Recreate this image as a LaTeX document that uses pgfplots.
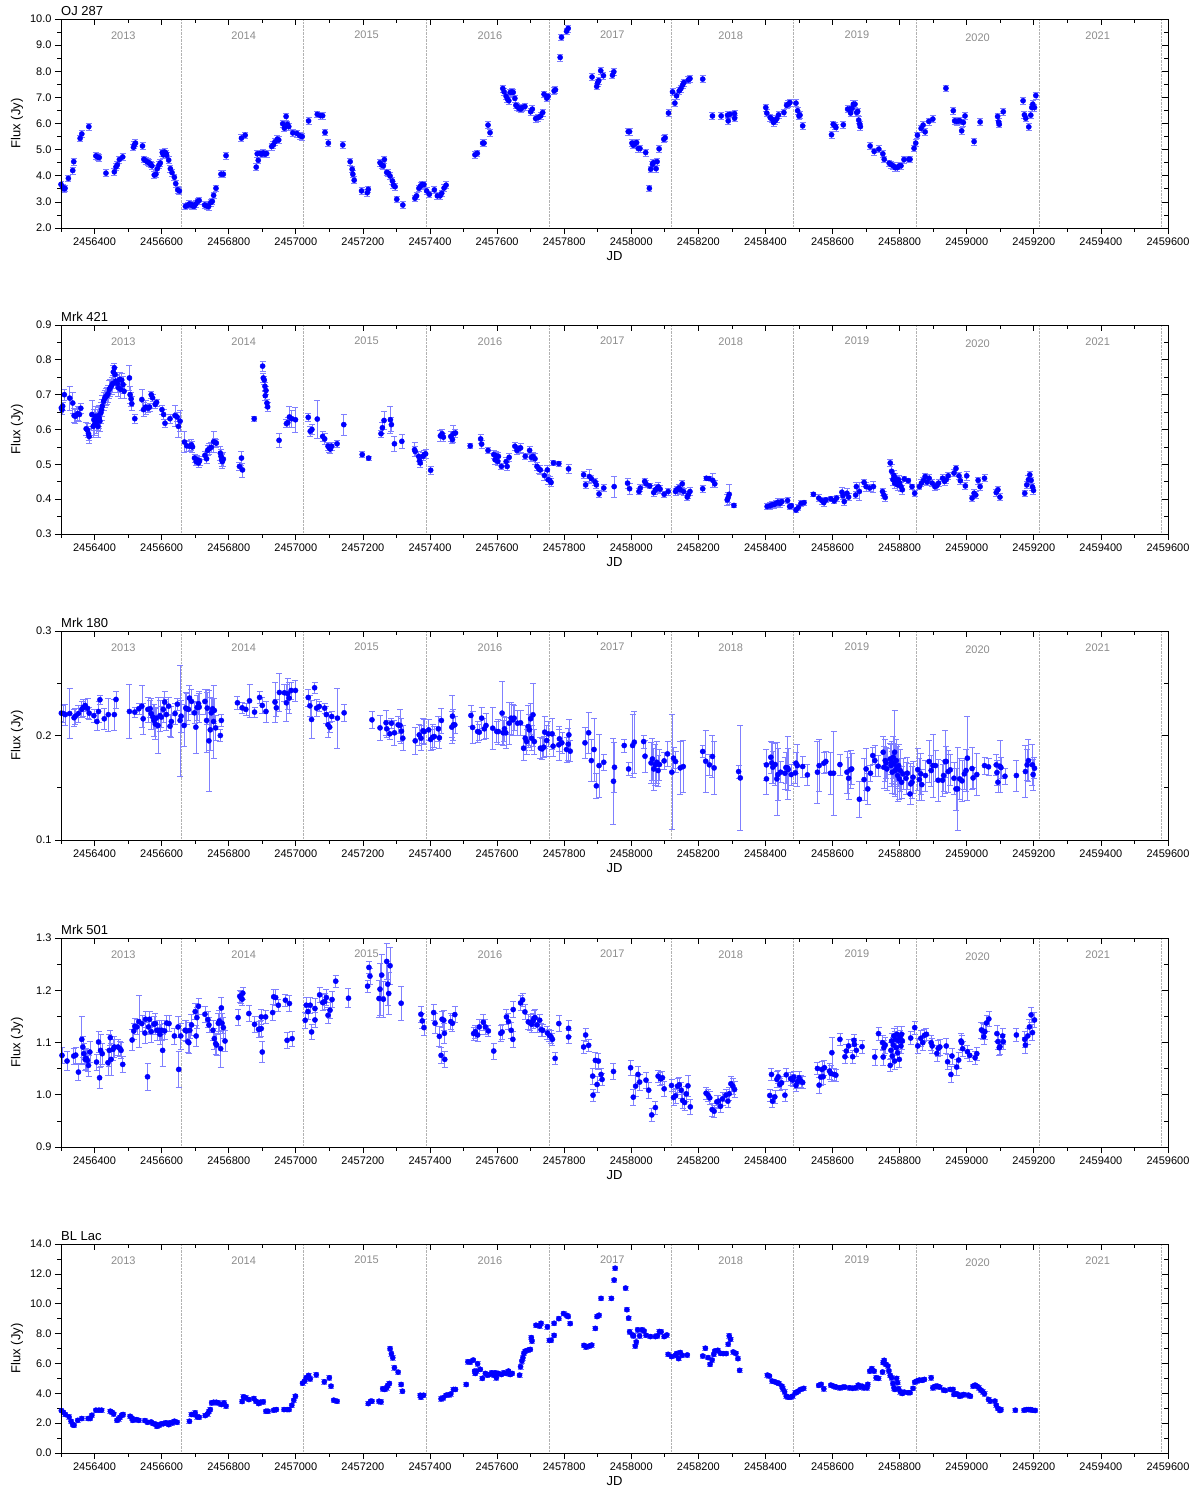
\documentclass[border=0pt]{standalone}
\usepackage{fontspec}
\setmainfont{Liberation Sans}
\usepackage{pgfplots}
\usepackage{pgfplotstable}
\pgfplotsset{compat=1.18}
\definecolor{yeargray}{rgb}{0.55,0.55,0.55}
\definecolor{ebblue}{rgb}{0.5,0.5,1}

% x values are t = JD - 2456000 (tick labels give the full JD)
\pgfplotstableread{
t f
300 3.67
305 3.55
310 3.50
312 3.52
322 3.90
335 4.20
338 4.54
357 5.43
362 5.60
383 5.88
404 4.76
409 4.72
414 4.70
434 4.10
459 4.15
464 4.34
468 4.42
474 4.62
484 4.72
516 5.09
519 5.19
522 5.25
543 5.14
547 4.63
552 4.58
558 4.53
563 4.50
567 4.44
571 4.38
578 4.03
583 4.06
587 4.27
592 4.41
596 4.49
602 4.89
605 4.80
609 4.91
613 4.86
615 4.78
621 4.60
626 4.27
631 4.12
638 3.94
642 3.70
648 3.46
653 3.42
671 2.83
678 2.87
683 2.92
688 2.90
692 2.85
697 2.83
702 2.92
707 3.02
712 3.05
728 2.88
734 2.85
740 2.82
746 2.97
751 3.02
755 3.25
762 3.52
777 4.06
784 4.06
792 4.77
838 5.44
849 5.55
882 4.33
885 4.84
888 4.59
893 4.85
898 4.83
903 4.87
908 4.83
913 4.85
928 5.12
933 5.18
938 5.30
945 5.40
949 5.37
961 5.99
966 5.82
971 6.27
975 5.97
979 5.88
991 5.64
1003 5.62
1012 5.53
1019 5.50
1038 6.10
1064 6.35
1074 6.30
1080 6.30
1087 5.66
1097 5.25
1140 5.18
1162 4.54
1168 4.25
1170 4.06
1174 3.83
1196 3.42
1213 3.35
1216 3.48
1251 4.50
1256 4.41
1261 4.38
1264 4.62
1271 4.13
1276 4.10
1281 3.99
1288 3.80
1291 3.64
1296 3.58
1301 3.10
1319 2.88
1355 3.14
1360 3.23
1367 3.52
1372 3.61
1377 3.67
1382 3.66
1390 3.42
1398 3.29
1413 3.46
1422 3.23
1430 3.23
1435 3.33
1442 3.53
1448 3.64
1534 4.80
1541 4.86
1557 5.25
1561 5.25
1573 5.94
1579 5.65
1617 7.34
1621 7.21
1627 7.04
1631 6.93
1635 6.87
1639 7.19
1644 7.21
1648 7.19
1653 6.96
1656 6.70
1660 6.65
1665 6.58
1670 6.55
1675 6.61
1683 6.65
1700 6.45
1705 6.55
1715 6.19
1723 6.23
1730 6.29
1736 6.42
1740 7.12
1748 6.97
1752 7.04
1770 7.25
1774 7.29
1788 8.53
1792 9.30
1807 9.53
1812 9.64
1883 7.78
1897 7.42
1900 7.57
1903 7.64
1909 8.02
1917 7.83
1944 7.85
1948 7.98
1991 5.69
1995 5.69
2002 5.25
2006 5.17
2011 5.23
2016 5.27
2021 5.04
2026 5.04
2043 4.89
2054 3.52
2058 4.25
2063 4.44
2066 4.50
2074 4.27
2077 4.54
2083 5.03
2097 5.40
2101 5.45
2111 6.40
2123 7.21
2130 6.78
2135 7.06
2143 7.25
2148 7.34
2153 7.47
2157 7.57
2170 7.67
2175 7.72
2213 7.70
2242 6.29
2268 6.29
2287 6.32
2289 6.10
2294 6.35
2308 6.38
2308 6.20
2401 6.61
2404 6.40
2414 6.23
2419 6.17
2424 6.04
2429 6.10
2434 6.19
2439 6.33
2455 6.42
2463 6.70
2468 6.74
2473 6.80
2491 6.78
2496 6.49
2500 6.29
2503 6.32
2511 5.91
2597 5.57
2602 5.97
2607 5.91
2610 5.85
2632 5.95
2645 6.55
2650 6.55
2654 6.40
2658 6.58
2662 6.74
2667 6.74
2672 6.42
2675 6.46
2678 6.13
2681 5.97
2683 5.88
2712 5.14
2724 4.93
2738 5.02
2750 4.84
2754 4.63
2769 4.48
2774 4.43
2781 4.38
2787 4.31
2793 4.31
2799 4.38
2804 4.38
2813 4.62
2827 4.63
2831 4.63
2843 5.05
2848 5.25
2853 5.55
2864 5.81
2870 5.94
2876 5.68
2887 6.08
2899 6.17
2938 7.35
2960 6.49
2964 6.10
2970 6.08
2976 6.10
2980 6.10
2985 5.72
2990 6.04
2995 6.29
3022 5.31
3040 6.06
3092 6.27
3095 6.06
3097 5.97
3109 6.45
3168 6.87
3172 6.33
3176 6.20
3185 5.87
3191 6.32
3194 6.61
3197 6.74
3202 6.61
3206 7.07
}\tabA

\pgfplotstableread{
t f e
301 0.662 0.012
303 0.657 0.012
305 0.667 0.012
310 0.700 0.015
326 0.690 0.035
335 0.676 0.03
339 0.640 0.02
343 0.638 0.02
350 0.646 0.02
355 0.643 0.02
359 0.661 0.015
375 0.602 0.02
379 0.598 0.02
382 0.588 0.02
384 0.580 0.02
392 0.643 0.04
396 0.609 0.03
398 0.628 0.03
400 0.614 0.03
403 0.638 0.03
405 0.618 0.03
407 0.628 0.03
410 0.609 0.03
412 0.640 0.03
414 0.633 0.03
416 0.624 0.03
419 0.648 0.03
421 0.657 0.03
423 0.667 0.03
427 0.681 0.025
430 0.688 0.025
433 0.694 0.025
437 0.697 0.025
440 0.703 0.025
444 0.715 0.025
447 0.720 0.025
451 0.726 0.025
454 0.732 0.025
456 0.765 0.02
459 0.777 0.012
461 0.758 0.02
463 0.739 0.02
468 0.732 0.025
471 0.720 0.025
475 0.744 0.02
478 0.715 0.025
481 0.742 0.02
485 0.729 0.025
488 0.710 0.02
504 0.748 0.035
506 0.700 0.025
509 0.688 0.02
511 0.674 0.02
520 0.631 0.012
541 0.686 0.03
546 0.657 0.02
552 0.664 0.02
559 0.661 0.012
564 0.664 0.012
569 0.700 0.01
573 0.691 0.01
581 0.672 0.01
585 0.678 0.01
601 0.657 0.012
606 0.643 0.015
610 0.618 0.012
625 0.631 0.012
640 0.640 0.03
646 0.636 0.012
650 0.609 0.03
655 0.624 0.03
668 0.564 0.03
675 0.553 0.015
683 0.552 0.015
689 0.556 0.015
692 0.550 0.015
698 0.518 0.012
703 0.508 0.012
706 0.513 0.012
710 0.504 0.012
713 0.510 0.012
729 0.526 0.012
734 0.516 0.012
737 0.540 0.015
741 0.544 0.015
748 0.549 0.015
755 0.565 0.03
760 0.563 0.012
763 0.561 0.012
775 0.532 0.02
777 0.523 0.02
779 0.513 0.02
781 0.508 0.02
784 0.515 0.02
832 0.494 0.012
838 0.518 0.02
841 0.484 0.02
876 0.631 0.008
901 0.782 0.015
903 0.748 0.012
906 0.742 0.012
908 0.724 0.012
909 0.697 0.012
911 0.712 0.012
914 0.676 0.012
916 0.665 0.012
950 0.569 0.02
972 0.617 0.012
976 0.620 0.015
981 0.636 0.03
988 0.631 0.025
999 0.628 0.035
1037 0.635 0.012
1043 0.595 0.015
1048 0.600 0.015
1064 0.630 0.055
1080 0.580 0.015
1086 0.573 0.015
1096 0.552 0.012
1100 0.547 0.012
1103 0.544 0.012
1107 0.552 0.012
1123 0.559 0.01
1143 0.614 0.03
1198 0.528 0.008
1217 0.518 0.006
1254 0.588 0.01
1258 0.605 0.015
1263 0.626 0.025
1282 0.628 0.04
1285 0.614 0.02
1294 0.559 0.022
1316 0.566 0.02
1354 0.542 0.02
1356 0.537 0.015
1366 0.523 0.015
1369 0.511 0.012
1371 0.504 0.012
1379 0.523 0.012
1383 0.528 0.012
1387 0.530 0.012
1402 0.483 0.012
1431 0.582 0.015
1436 0.588 0.012
1440 0.578 0.012
1462 0.580 0.015
1467 0.571 0.012
1470 0.588 0.025
1476 0.590 0.012
1520 0.553 0.008
1551 0.573 0.012
1554 0.558 0.012
1573 0.540 0.008
1590 0.528 0.012
1594 0.513 0.012
1597 0.525 0.012
1602 0.508 0.012
1604 0.523 0.012
1613 0.494 0.008
1627 0.508 0.012
1630 0.494 0.012
1636 0.520 0.012
1653 0.552 0.012
1659 0.540 0.012
1664 0.544 0.012
1670 0.547 0.012
1684 0.523 0.008
1697 0.540 0.012
1702 0.520 0.012
1707 0.523 0.012
1713 0.516 0.015
1719 0.494 0.012
1725 0.486 0.012
1729 0.484 0.012
1741 0.468 0.015
1750 0.484 0.012
1752 0.456 0.012
1757 0.454 0.012
1761 0.448 0.012
1768 0.504 0.008
1784 0.502 0.008
1813 0.487 0.012
1858 0.470 0.01
1864 0.441 0.01
1875 0.465 0.02
1881 0.459 0.01
1892 0.450 0.01
1896 0.441 0.01
1904 0.415 0.01
1918 0.432 0.01
1949 0.436 0.03
1989 0.446 0.015
1995 0.430 0.015
2023 0.422 0.008
2027 0.432 0.01
2040 0.451 0.01
2044 0.444 0.01
2055 0.438 0.008
2067 0.419 0.012
2072 0.427 0.012
2078 0.432 0.012
2081 0.435 0.012
2086 0.429 0.012
2098 0.414 0.01
2110 0.422 0.01
2132 0.422 0.01
2135 0.427 0.01
2142 0.432 0.012
2146 0.427 0.012
2152 0.444 0.01
2156 0.422 0.01
2167 0.406 0.01
2170 0.413 0.01
2175 0.422 0.012
2213 0.430 0.01
2224 0.460 0.006
2232 0.459 0.006
2243 0.454 0.02
2249 0.444 0.01
2286 0.398 0.015
2289 0.405 0.015
2292 0.414 0.03
2306 0.382 0.005
2405 0.379 0.008
2414 0.381 0.01
2420 0.384 0.01
2426 0.385 0.01
2432 0.388 0.01
2437 0.391 0.012
2443 0.388 0.012
2449 0.393 0.01
2466 0.396 0.008
2472 0.379 0.008
2477 0.381 0.008
2491 0.369 0.008
2498 0.376 0.008
2506 0.388 0.008
2515 0.390 0.008
2543 0.414 0.005
2559 0.403 0.01
2568 0.396 0.01
2574 0.390 0.01
2580 0.398 0.008
2595 0.401 0.008
2605 0.395 0.008
2612 0.403 0.008
2628 0.420 0.015
2631 0.410 0.01
2635 0.393 0.01
2643 0.417 0.015
2648 0.406 0.01
2669 0.412 0.01
2671 0.436 0.012
2680 0.422 0.025
2694 0.448 0.01
2700 0.436 0.012
2711 0.432 0.01
2722 0.436 0.015
2749 0.422 0.01
2753 0.412 0.01
2757 0.405 0.01
2772 0.504 0.01
2776 0.480 0.02
2780 0.456 0.015
2783 0.468 0.015
2785 0.446 0.015
2787 0.460 0.015
2791 0.451 0.015
2794 0.441 0.015
2797 0.456 0.012
2800 0.446 0.012
2804 0.436 0.012
2808 0.427 0.012
2814 0.458 0.008
2826 0.453 0.008
2837 0.436 0.008
2845 0.417 0.008
2859 0.436 0.008
2865 0.446 0.01
2871 0.454 0.01
2876 0.465 0.008
2882 0.449 0.01
2888 0.460 0.01
2897 0.446 0.01
2905 0.436 0.01
2911 0.439 0.01
2916 0.446 0.01
2928 0.460 0.01
2934 0.451 0.01
2939 0.456 0.01
2945 0.467 0.01
2962 0.475 0.01
2968 0.488 0.01
2977 0.467 0.01
2981 0.453 0.01
2996 0.438 0.01
3000 0.467 0.012
3016 0.403 0.008
3022 0.417 0.01
3027 0.412 0.01
3034 0.454 0.01
3040 0.436 0.01
3053 0.460 0.01
3088 0.419 0.01
3093 0.427 0.01
3099 0.406 0.01
3173 0.417 0.008
3179 0.441 0.01
3184 0.456 0.012
3188 0.470 0.01
3192 0.454 0.01
3196 0.435 0.01
3199 0.425 0.01
}\tabB

\pgfplotstableread{
t f e
301 0.2214 0.008
307 0.221 0.008
313 0.220 0.01
326 0.221 0.024
339 0.217 0.008
343 0.2185 0.008
352 0.221 0.008
362 0.225 0.008
366 0.2268 0.008
372 0.2288 0.006
379 0.226 0.01
384 0.2214 0.006
398 0.219 0.006
407 0.2134 0.008
412 0.223 0.01
416 0.2342 0.004
429 0.216 0.01
441 0.220 0.016
459 0.220 0.015
464 0.2345 0.008
504 0.223 0.026
520 0.2224 0.005
532 0.2256 0.005
541 0.228 0.02
545 0.216 0.015
559 0.225 0.012
566 0.2256 0.008
569 0.221 0.015
574 0.2176 0.012
577 0.2144 0.015
581 0.211 0.015
584 0.2166 0.01
589 0.2096 0.027
595 0.219 0.015
599 0.2176 0.01
605 0.225 0.012
609 0.232 0.01
614 0.220 0.015
621 0.2281 0.008
625 0.2089 0.01
629 0.2134 0.015
640 0.221 0.01
647 0.230 0.006
655 0.2144 0.053
658 0.2185 0.015
667 0.2096 0.02
672 0.2262 0.015
675 0.2256 0.015
680 0.225 0.01
683 0.2358 0.012
689 0.2326 0.012
698 0.2217 0.01
702 0.208 0.025
706 0.2268 0.012
710 0.2304 0.01
712 0.2272 0.015
729 0.2326 0.012
734 0.2144 0.03
736 0.2262 0.015
741 0.1949 0.048
745 0.2054 0.02
748 0.2217 0.015
752 0.2256 0.01
755 0.2134 0.035
757 0.224 0.012
761 0.2073 0.012
775 0.200 0.006
778 0.2144 0.006
826 0.2313 0.006
840 0.2265 0.005
851 0.225 0.006
862 0.2332 0.016
877 0.2224 0.005
892 0.2364 0.006
900 0.2288 0.008
911 0.223 0.01
938 0.232 0.019
942 0.2265 0.008
951 0.2412 0.018
966 0.2409 0.008
972 0.2313 0.018
976 0.240 0.015
980 0.2358 0.015
986 0.2431 0.008
999 0.2431 0.01
1037 0.2364 0.008
1042 0.2284 0.01
1047 0.2153 0.018
1056 0.2457 0.005
1062 0.2262 0.008
1070 0.2278 0.005
1086 0.2262 0.005
1091 0.220 0.008
1096 0.2102 0.012
1101 0.208 0.005
1107 0.2182 0.005
1124 0.2166 0.029
1144 0.2217 0.008
1227 0.215 0.008
1251 0.2073 0.012
1269 0.2121 0.012
1271 0.2064 0.008
1280 0.2016 0.005
1285 0.2118 0.005
1294 0.2026 0.012
1305 0.2102 0.008
1311 0.2096 0.015
1315 0.2042 0.012
1319 0.1974 0.012
1356 0.1949 0.013
1368 0.2006 0.01
1373 0.1974 0.012
1379 0.2045 0.012
1383 0.2038 0.012
1396 0.2054 0.01
1402 0.1962 0.01
1408 0.1984 0.012
1413 0.199 0.01
1425 0.2064 0.012
1428 0.1978 0.01
1434 0.2144 0.012
1465 0.208 0.015
1467 0.2185 0.02
1470 0.2102 0.015
1474 0.2102 0.008
1522 0.2192 0.01
1527 0.2077 0.015
1542 0.2038 0.01
1547 0.2032 0.008
1554 0.2166 0.01
1562 0.2064 0.01
1567 0.2096 0.012
1587 0.207 0.02
1599 0.2038 0.01
1604 0.2038 0.012
1615 0.2214 0.03
1618 0.2026 0.012
1622 0.2064 0.012
1626 0.2026 0.015
1636 0.2118 0.02
1642 0.2166 0.015
1647 0.215 0.015
1651 0.2166 0.012
1661 0.2118 0.012
1670 0.2121 0.012
1679 0.1879 0.012
1684 0.1974 0.012
1688 0.1942 0.012
1693 0.2086 0.02
1696 0.2054 0.015
1700 0.216 0.015
1703 0.1974 0.012
1707 0.2198 0.03
1711 0.1942 0.012
1729 0.1879 0.01
1734 0.1872 0.01
1739 0.1888 0.01
1742 0.2032 0.015
1748 0.1952 0.015
1753 0.2016 0.012
1764 0.2016 0.015
1767 0.1898 0.01
1784 0.1911 0.015
1786 0.1968 0.012
1793 0.193 0.01
1807 0.1866 0.012
1812 0.1917 0.015
1814 0.2006 0.015
1818 0.185 0.01
1862 0.193 0.015
1873 0.2026 0.02
1881 0.176 0.02
1889 0.1866 0.03
1896 0.1518 0.012
1904 0.1712 0.03
1918 0.1744 0.008
1947 0.1562 0.041
1950 0.1696 0.024
1979 0.1904 0.006
1992 0.168 0.006
2004 0.1904 0.03
2009 0.1936 0.03
2037 0.1942 0.006
2041 0.1802 0.015
2059 0.1738 0.02
2063 0.1776 0.02
2067 0.168 0.02
2072 0.1719 0.02
2076 0.1744 0.02
2080 0.1665 0.015
2084 0.1722 0.015
2098 0.1757 0.008
2108 0.1824 0.012
2121 0.1649 0.055
2126 0.1783 0.01
2132 0.1751 0.01
2146 0.169 0.025
2155 0.1703 0.025
2213 0.1847 0.006
2222 0.1754 0.03
2233 0.1719 0.01
2242 0.1799 0.02
2247 0.169 0.025
2320 0.1655 0.006
2325 0.1594 0.05
2403 0.1585 0.015
2403 0.1719 0.015
2416 0.1792 0.015
2419 0.1738 0.02
2422 0.1697 0.015
2429 0.1722 0.02
2434 0.1585 0.035
2437 0.1626 0.025
2445 0.1649 0.01
2458 0.1639 0.015
2461 0.1693 0.015
2466 0.169 0.03
2468 0.1674 0.02
2477 0.1626 0.01
2489 0.1642 0.01
2491 0.1735 0.01
2495 0.1712 0.02
2511 0.1703 0.01
2525 0.1623 0.01
2555 0.1649 0.03
2560 0.1712 0.025
2574 0.1735 0.01
2580 0.1751 0.01
2594 0.1639 0.02
2603 0.1639 0.04
2622 0.1722 0.01
2643 0.1649 0.02
2648 0.1591 0.02
2654 0.1674 0.018
2657 0.168 0.015
2680 0.139 0.017
2694 0.1578 0.02
2700 0.168 0.02
2705 0.1489 0.015
2713 0.1639 0.008
2720 0.1808 0.008
2726 0.176 0.015
2736 0.1706 0.01
2751 0.184 0.015
2753 0.1696 0.02
2757 0.176 0.02
2760 0.1738 0.015
2762 0.168 0.02
2772 0.1776 0.015
2774 0.1712 0.02
2776 0.1744 0.02
2778 0.1649 0.02
2781 0.1792 0.02
2783 0.1729 0.02
2785 0.184 0.04
2787 0.1665 0.025
2790 0.176 0.02
2792 0.1696 0.02
2794 0.1617 0.025
2797 0.1712 0.02
2799 0.1585 0.02
2802 0.1665 0.02
2806 0.1553 0.015
2810 0.1633 0.015
2819 0.1591 0.015
2823 0.1639 0.015
2831 0.1441 0.01
2833 0.1537 0.02
2837 0.1553 0.015
2840 0.1601 0.015
2854 0.1674 0.02
2859 0.1578 0.02
2863 0.1633 0.02
2866 0.153 0.015
2877 0.1617 0.015
2888 0.1751 0.02
2894 0.1665 0.015
2899 0.1712 0.03
2907 0.1712 0.015
2915 0.1572 0.02
2928 0.1572 0.015
2931 0.1617 0.015
2936 0.1751 0.03
2939 0.1751 0.015
2945 0.1655 0.02
2951 0.1671 0.015
2962 0.1591 0.015
2968 0.1489 0.02
2973 0.1489 0.04
2979 0.1585 0.02
2986 0.1566 0.02
2993 0.1633 0.015
2998 0.1665 0.02
3002 0.1783 0.04
3016 0.1684 0.02
3019 0.1594 0.01
3030 0.1626 0.02
3053 0.1712 0.008
3065 0.17 0.008
3088 0.1719 0.01
3090 0.1645 0.012
3093 0.1553 0.01
3099 0.1706 0.025
3102 0.1693 0.01
3114 0.161 0.008
3148 0.1617 0.015
3175 0.1655 0.025
3180 0.1719 0.015
3184 0.176 0.02
3196 0.1719 0.02
3198 0.1626 0.015
3202 0.1687 0.01
}\tabC

\pgfplotstableread{
t f e
303 1.0754 0.015
318 1.0645 0.018
338 1.0741 0.015
344 1.0760 0.015
352 1.0434 0.015
362 1.1060 0.045
365 1.0914 0.02
368 1.0786 0.02
372 1.0677 0.02
375 1.0696 0.02
379 1.0658 0.02
382 1.0562 0.02
386 1.0818 0.02
406 1.0626 0.015
412 1.1010 0.02
415 1.0325 0.02
418 1.0850 0.03
423 1.0786 0.02
440 1.0613 0.025
444 1.0850 0.03
447 1.1093 0.015
449 1.0677 0.03
455 1.0869 0.02
459 1.0914 0.02
470 1.0914 0.015
476 1.0882 0.015
479 1.0850 0.015
484 1.0581 0.015
512 1.1048 0.02
517 1.1221 0.015
520 1.1310 0.015
526 1.1298 0.015
532 1.1400 0.05
541 1.1362 0.015
550 1.1182 0.02
552 1.1445 0.015
558 1.0344 0.025
561 1.1298 0.015
564 1.1445 0.015
569 1.1208 0.02
577 1.1349 0.015
581 1.1362 0.02
586 1.1234 0.02
592 1.1234 0.02
595 1.1157 0.02
600 1.1234 0.02
603 1.0850 0.03
609 1.1221 0.015
615 1.1374 0.015
622 1.1362 0.015
638 1.1125 0.015
649 1.1298 0.02
651 1.0485 0.035
657 1.1125 0.025
670 1.1234 0.02
674 1.1221 0.02
678 1.1016 0.02
681 1.0997 0.02
684 1.1234 0.015
689 1.1336 0.02
700 1.1592 0.015
703 1.1125 0.02
705 1.1477 0.02
710 1.1694 0.015
729 1.1541 0.015
738 1.1438 0.015
741 1.1336 0.015
753 1.1234 0.02
757 1.1074 0.02
761 1.0978 0.02
764 1.0952 0.02
769 1.1368 0.02
772 1.1413 0.02
776 1.0882 0.035
778 1.1662 0.02
780 1.1368 0.02
784 1.1285 0.02
789 1.1029 0.02
828 1.1477 0.015
833 1.1886 0.012
836 1.1861 0.012
840 1.1829 0.012
842 1.1944 0.012
860 1.1554 0.015
877 1.1349 0.015
889 1.1253 0.015
892 1.1253 0.015
897 1.1266 0.015
897 1.1490 0.015
900 1.0818 0.02
910 1.1490 0.012
931 1.1573 0.015
934 1.1874 0.015
940 1.1861 0.015
948 1.1714 0.012
969 1.1810 0.012
974 1.1042 0.015
981 1.1746 0.015
989 1.1074 0.015
1028 1.1426 0.015
1031 1.1714 0.015
1036 1.1592 0.015
1043 1.1714 0.015
1047 1.1202 0.015
1057 1.1650 0.02
1057 1.1432 0.015
1071 1.1912 0.015
1080 1.1765 0.015
1086 1.1784 0.015
1091 1.1861 0.015
1096 1.1522 0.015
1102 1.1618 0.015
1108 1.1822 0.015
1119 1.2174 0.012
1157 1.1848 0.018
1214 1.2078 0.012
1218 1.2437 0.012
1221 1.2270 0.015
1248 1.1842 0.035
1251 1.2021 0.05
1256 1.2290 0.04
1261 1.1829 0.035
1271 1.2552 0.035
1274 1.2117 0.04
1277 1.1938 0.04
1281 1.2469 0.035
1314 1.1752 0.032
1373 1.1541 0.015
1377 1.1413 0.015
1382 1.1285 0.015
1411 1.1573 0.015
1415 1.1368 0.02
1428 1.1118 0.02
1433 1.0754 0.015
1436 1.1445 0.015
1441 1.1426 0.02
1443 1.1176 0.02
1444 1.0677 0.015
1462 1.1400 0.015
1467 1.1368 0.015
1474 1.1534 0.015
1530 1.1170 0.012
1535 1.1208 0.012
1542 1.1144 0.012
1547 1.1298 0.015
1559 1.1387 0.015
1565 1.1298 0.015
1574 1.1221 0.01
1590 1.0837 0.015
1611 1.1176 0.015
1615 1.1202 0.015
1628 1.1490 0.015
1634 1.1400 0.015
1642 1.1234 0.015
1647 1.1061 0.015
1648 1.1630 0.015
1670 1.1758 0.015
1676 1.1816 0.012
1683 1.1586 0.015
1693 1.1394 0.015
1699 1.1381 0.015
1703 1.1349 0.015
1707 1.1413 0.015
1710 1.1458 0.015
1713 1.1477 0.015
1719 1.1336 0.015
1727 1.1426 0.012
1731 1.1246 0.012
1736 1.1234 0.012
1750 1.1182 0.012
1756 1.1138 0.012
1761 1.1106 0.012
1765 1.1061 0.012
1773 1.0696 0.012
1784 1.1362 0.015
1813 1.1272 0.015
1813 1.1106 0.012
1858 1.0914 0.012
1864 1.1144 0.012
1873 1.0946 0.012
1885 1.0357 0.015
1886 0.9992 0.012
1893 1.0658 0.015
1898 1.0197 0.015
1902 1.0645 0.015
1910 1.0389 0.012
1913 1.0293 0.012
1947 1.0446 0.015
1998 1.0517 0.015
2006 0.9954 0.015
2013 1.0165 0.02
2020 1.0389 0.015
2025 1.0242 0.015
2044 1.0280 0.015
2052 1.0088 0.015
2061 0.9614 0.012
2072 0.9755 0.012
2080 1.0357 0.012
2087 1.0306 0.012
2093 1.0325 0.012
2098 1.0114 0.015
2120 1.0178 0.012
2126 0.9947 0.015
2132 0.9979 0.015
2138 1.0165 0.015
2143 1.0190 0.015
2149 1.0088 0.015
2153 0.9890 0.015
2159 0.9851 0.015
2164 1.0018 0.015
2169 1.0171 0.02
2176 0.9768 0.015
2223 1.0030 0.012
2229 0.9992 0.012
2234 0.9941 0.012
2241 0.9717 0.012
2247 0.9685 0.012
2255 0.9864 0.012
2260 0.9877 0.012
2266 0.9781 0.012
2272 0.9922 0.012
2282 0.9992 0.012
2288 0.9877 0.012
2292 1.0018 0.012
2297 1.0210 0.015
2303 1.0165 0.015
2308 1.0101 0.015
2413 0.9986 0.012
2418 1.0389 0.012
2421 0.9877 0.012
2428 0.9960 0.012
2434 1.0293 0.015
2438 1.0344 0.012
2443 1.0197 0.012
2448 1.0229 0.012
2458 0.9992 0.012
2462 1.0382 0.012
2475 1.0306 0.012
2481 1.0280 0.012
2484 1.0338 0.012
2491 1.0178 0.012
2495 1.0248 0.012
2500 1.0325 0.012
2506 1.0261 0.012
2511 1.0235 0.012
2555 1.0504 0.012
2560 1.0184 0.015
2565 1.0338 0.015
2568 1.0485 0.015
2572 1.0344 0.015
2576 1.0517 0.015
2591 1.0453 0.015
2595 1.0408 0.015
2598 1.0805 0.03
2605 1.0389 0.012
2610 1.0376 0.012
2622 1.1061 0.012
2637 1.0728 0.012
2641 1.0837 0.012
2648 1.0934 0.012
2660 1.0728 0.012
2664 1.1042 0.012
2665 1.0966 0.012
2671 1.0850 0.012
2688 1.0920 0.012
2726 1.0722 0.015
2737 1.1170 0.012
2749 1.0997 0.015
2751 1.0722 0.015
2753 1.0901 0.015
2757 1.0952 0.015
2772 1.0562 0.012
2774 1.0850 0.015
2776 1.1029 0.015
2778 1.0741 0.015
2781 1.0952 0.015
2783 1.1125 0.015
2785 1.0645 0.015
2787 1.1061 0.015
2790 1.0901 0.015
2792 1.1157 0.015
2794 1.0805 0.015
2797 1.1029 0.015
2799 1.0677 0.015
2801 1.1093 0.015
2804 1.0934 0.015
2806 1.1157 0.015
2808 1.1029 0.015
2833 1.1086 0.012
2845 1.1285 0.012
2854 1.0934 0.015
2863 1.1080 0.015
2869 1.0997 0.015
2874 1.1138 0.012
2880 1.1157 0.012
2894 1.0997 0.015
2897 1.0934 0.015
2911 1.0792 0.015
2915 1.0888 0.015
2920 1.0914 0.015
2939 1.0934 0.015
2943 1.0632 0.015
2953 1.0389 0.015
2956 1.0741 0.015
2970 1.0530 0.015
2976 1.0664 0.015
2983 1.1029 0.015
2985 1.0997 0.015
2988 1.0882 0.015
3002 1.0824 0.012
3009 1.0754 0.012
3025 1.0709 0.012
3030 1.0786 0.012
3044 1.1240 0.015
3048 1.1221 0.015
3051 1.1112 0.015
3054 1.1208 0.015
3059 1.1374 0.015
3066 1.1451 0.015
3090 1.1170 0.015
3093 1.1016 0.015
3097 1.0901 0.015
3099 1.0920 0.015
3107 1.1125 0.015
3109 1.1016 0.015
3148 1.1144 0.012
3173 1.1061 0.015
3175 1.0952 0.015
3182 1.1125 0.015
3187 1.1298 0.015
3192 1.1528 0.015
3196 1.1189 0.015
3202 1.1432 0.015
}\tabD

\pgfplotstableread{
t f
301 2.84
307 2.73
313 2.58
324 2.42
330 2.13
335 1.90
339 1.86
350 2.19
362 2.31
381 2.31
387 2.31
392 2.53
404 2.87
413 2.87
421 2.87
447 2.80
452 2.73
457 2.62
467 2.19
472 2.28
476 2.40
481 2.53
485 2.58
506 2.46
511 2.35
514 2.19
524 2.24
532 2.19
550 2.17
558 2.06
569 2.08
575 1.97
583 1.93
586 1.79
592 1.86
598 1.95
606 1.97
613 2.02
621 1.90
625 2.02
632 2.02
638 2.13
646 2.06
683 2.13
689 2.58
695 2.58
700 2.69
706 2.42
712 2.40
730 2.51
737 2.62
741 2.78
745 2.91
749 3.36
755 3.40
763 3.40
769 3.36
778 3.25
786 3.36
792 3.14
840 3.45
844 3.76
851 3.70
860 3.58
875 3.65
881 3.47
889 3.31
894 3.40
903 3.43
911 2.80
917 2.80
934 2.87
942 2.91
965 2.91
974 2.91
980 2.91
988 3.20
994 3.54
999 3.81
1020 4.68
1026 4.82
1031 5.04
1038 5.20
1043 4.97
1061 5.24
1085 4.77
1100 5.04
1105 4.48
1113 3.54
1123 3.47
1216 3.31
1223 3.47
1227 3.47
1248 3.47
1254 3.43
1259 4.30
1265 4.26
1271 4.37
1274 4.52
1279 4.66
1281 6.99
1285 6.65
1289 6.38
1294 5.71
1305 5.42
1314 4.59
1318 4.14
1371 3.87
1373 3.74
1381 3.87
1433 3.63
1440 3.70
1448 3.87
1456 3.90
1462 3.96
1470 4.26
1476 4.26
1508 4.59
1513 6.11
1520 6.09
1529 6.23
1533 5.49
1535 5.33
1539 5.49
1542 5.98
1550 5.60
1556 5.00
1565 5.33
1571 5.22
1577 5.26
1584 5.37
1590 5.22
1594 5.37
1598 5.04
1604 5.33
1613 5.26
1620 5.37
1627 5.33
1634 5.49
1639 5.26
1645 5.33
1667 5.22
1670 5.78
1674 6.16
1677 6.38
1680 6.67
1684 6.83
1693 6.90
1699 6.94
1702 7.73
1704 7.50
1716 8.56
1727 8.51
1731 8.69
1750 8.45
1756 7.55
1761 7.55
1770 7.88
1770 8.69
1784 9.00
1798 9.34
1807 9.23
1812 9.14
1818 8.67
1859 7.21
1865 7.10
1875 7.17
1882 7.23
1893 8.35
1898 9.14
1904 9.23
1910 10.36
1941 10.36
1949 11.59
1952 12.38
1983 11.05
1987 9.60
1992 9.04
1995 8.12
2004 7.91
2007 7.85
2012 7.17
2015 7.44
2019 8.25
2025 7.85
2032 8.25
2038 8.18
2044 7.89
2057 7.80
2072 7.80
2078 7.85
2084 8.14
2089 8.12
2098 7.80
2106 7.91
2110 6.61
2120 6.46
2132 6.55
2135 6.66
2141 6.32
2146 6.73
2152 6.55
2167 6.57
2213 6.50
2221 7.02
2229 6.39
2235 5.94
2241 6.23
2246 6.61
2249 6.84
2258 6.88
2266 6.68
2274 6.66
2283 6.66
2289 7.29
2292 7.85
2296 7.62
2304 6.77
2312 6.68
2318 6.32
2323 5.54
2406 5.22
2412 5.16
2420 4.82
2426 4.78
2434 4.71
2440 4.66
2449 4.48
2452 4.30
2457 4.10
2462 3.81
2468 3.74
2475 3.74
2481 3.81
2489 4.04
2492 4.04
2498 4.15
2505 4.26
2514 4.33
2559 4.53
2566 4.60
2574 4.30
2595 4.55
2603 4.48
2611 4.42
2622 4.37
2631 4.42
2637 4.42
2651 4.37
2660 4.33
2669 4.37
2677 4.55
2683 4.42
2688 4.48
2694 4.37
2703 4.37
2705 4.60
2711 5.49
2717 5.65
2724 5.49
2730 5.04
2737 5.00
2749 5.43
2751 6.05
2754 6.21
2759 5.94
2765 5.83
2768 5.49
2772 5.20
2776 5.04
2780 4.66
2783 4.37
2786 4.26
2791 5.00
2794 4.71
2797 4.30
2802 4.10
2808 3.99
2814 4.08
2825 4.04
2831 4.04
2840 4.33
2845 4.75
2851 4.82
2859 4.89
2867 4.87
2874 4.93
2894 5.04
2899 4.37
2904 4.44
2908 4.48
2913 4.48
2919 4.42
2931 4.22
2936 4.19
2951 4.26
2959 4.26
2962 3.92
2968 3.97
2973 3.92
2979 3.81
2985 3.86
2991 3.92
3005 3.88
3011 3.81
3019 4.48
3025 4.55
3030 4.48
3036 4.37
3042 4.22
3048 4.10
3053 3.97
3065 3.59
3070 3.48
3084 3.48
3088 3.21
3093 2.98
3099 2.85
3102 2.91
3145 2.87
3171 2.87
3179 2.91
3184 2.91
3190 2.91
3196 2.87
3204 2.85
}\tabE

\tikzset{yl/.style={font=\fontsize{11}{13}\selectfont, text=yeargray, anchor=center, inner sep=0pt}}
\newcommand{\years}{%
  \node[yl] at (axis description cs:0.0563,0.919) {2013};
  \node[yl] at (axis description cs:0.165,0.919) {2014};
  \node[yl] at (axis description cs:0.276,0.923) {2015};
  \node[yl] at (axis description cs:0.3875,0.919) {2016};
  \node[yl] at (axis description cs:0.498,0.926) {2017};
  \node[yl] at (axis description cs:0.605,0.920) {2018};
  \node[yl] at (axis description cs:0.719,0.923) {2019};
  \node[yl] at (axis description cs:0.828,0.912) {2020};
  \node[yl] at (axis description cs:0.9365,0.919) {2021};
}

\pgfplotsset{
  base/.style={
    width=1107pt, height=209pt, scale only axis,
    xmin=300, xmax=3600,
    xtick={400,600,...,3600},
    minor xtick={300,500,...,3500},
    major tick length=6pt, minor tick length=3.5pt,
    tick style={black, line width=0.7pt},
    axis line style={black, line width=0.8pt},
  },
  panel/.style={
    base,
    tick align=outside, tick pos=left,
    xticklabels={2456400,2456600,2456800,2457000,2457200,2457400,2457600,2457800,2458000,2458200,2458400,2458600,2458800,2459000,2459200,2459400,2459600},
    ticklabel style={font=\fontsize{11}{13}\selectfont},
    yticklabel style={/pgf/number format/fixed, /pgf/number format/fixed zerofill, /pgf/number format/precision=1, /pgf/number format/assume math mode=true},
    label style={font=\fontsize{13}{15}\selectfont},
    xlabel={JD}, ylabel={Flux (Jy)},
    xlabel style={at={(axis description cs:0.5,-0.134)}, anchor=center},
    ylabel style={at={(axis description cs:-0.0397,0.5)}, anchor=center},
    title style={at={(axis description cs:0,1)}, anchor=base west, inner sep=0pt, yshift=-2.5pt, font=\fontsize{13}{15}\selectfont},
    extra x ticks={658.5,1023.5,1388.5,1754.5,2119.5,2484.5,2849.5,3215.5,3580.5},
    extra x tick labels={},
    extra x tick style={grid=major, major grid style={black!30, densely dotted, line width=0.6pt}, major tick length=0pt},
  },
  mirror/.style={
    base, tick align=inside, tick pos=right,
    xticklabels={}, yticklabels={},
  },
  pts/.style={only marks, mark=*, mark size=2.6pt, blue,
    error bars/y dir=both,
    error bars/draw error bar/.code 2 args={\draw[ebblue, line width=0.6pt] ##1 -- ##2 ++(-3pt,0pt) -- ++(6pt,0pt);}},
  yA/.style={ymin=2, ymax=10, ytick={2,3,4,5,6,7,8,9,10}, minor ytick={2.5,3.5,4.5,5.5,6.5,7.5,8.5,9.5}},
  yB/.style={ymin=0.3, ymax=0.9, ytick={0.3,0.4,0.5,0.6,0.7,0.8,0.9}, minor ytick={0.35,0.45,0.55,0.65,0.75,0.85}},
  yC/.style={ymin=0.1, ymax=0.3, ytick={0.1,0.2,0.3}, minor ytick={0.15,0.25}},
  yD/.style={ymin=0.9, ymax=1.3, ytick={0.9,1.0,1.1,1.2,1.3}, minor ytick={0.95,1.05,1.15,1.25}},
  yE/.style={ymin=0, ymax=14, ytick={0,2,4,6,8,10,12,14}, minor ytick={1,3,5,7,9,11,13}},
}

\begin{document}
\begin{tikzpicture}
\useasboundingbox (-61pt,-1260pt) rectangle (1138pt,228pt);

% Panel 1: OJ 287
\begin{axis}[panel, yA, at={(0pt,0pt)}, title={OJ 287}]
\years
\addplot[pts, error bars/y fixed=0.13] table[x=t, y=f] {\tabA};
\end{axis}
\begin{axis}[mirror, yA, at={(0pt,0pt)}]\end{axis}

% Panel 2: Mrk 421
\begin{axis}[panel, yB, at={(0pt,-306pt)}, title={Mrk 421}]
\years
\addplot[pts, error bars/y explicit] table[x=t, y=f, y error=e] {\tabB};
\end{axis}
\begin{axis}[mirror, yB, at={(0pt,-306pt)}]\end{axis}

% Panel 3: Mrk 180
\begin{axis}[panel, yC, at={(0pt,-612pt)}, title={Mrk 180}]
\years
\addplot[pts, error bars/y explicit] table[x=t, y=f, y error=e] {\tabC};
\end{axis}
\begin{axis}[mirror, yC, at={(0pt,-612pt)}]\end{axis}

% Panel 4: Mrk 501
\begin{axis}[panel, yD, at={(0pt,-919pt)}, title={Mrk 501}]
\years
\addplot[pts, error bars/y explicit] table[x=t, y=f, y error=e] {\tabD};
\end{axis}
\begin{axis}[mirror, yD, at={(0pt,-919pt)}]\end{axis}

% Panel 5: BL Lac
\begin{axis}[panel, yE, at={(0pt,-1225pt)}, title={BL Lac}]
\years
\addplot[pts, error bars/y fixed=0.14] table[x=t, y=f] {\tabE};
\end{axis}
\begin{axis}[mirror, yE, at={(0pt,-1225pt)}]\end{axis}

\end{tikzpicture}
\end{document}
